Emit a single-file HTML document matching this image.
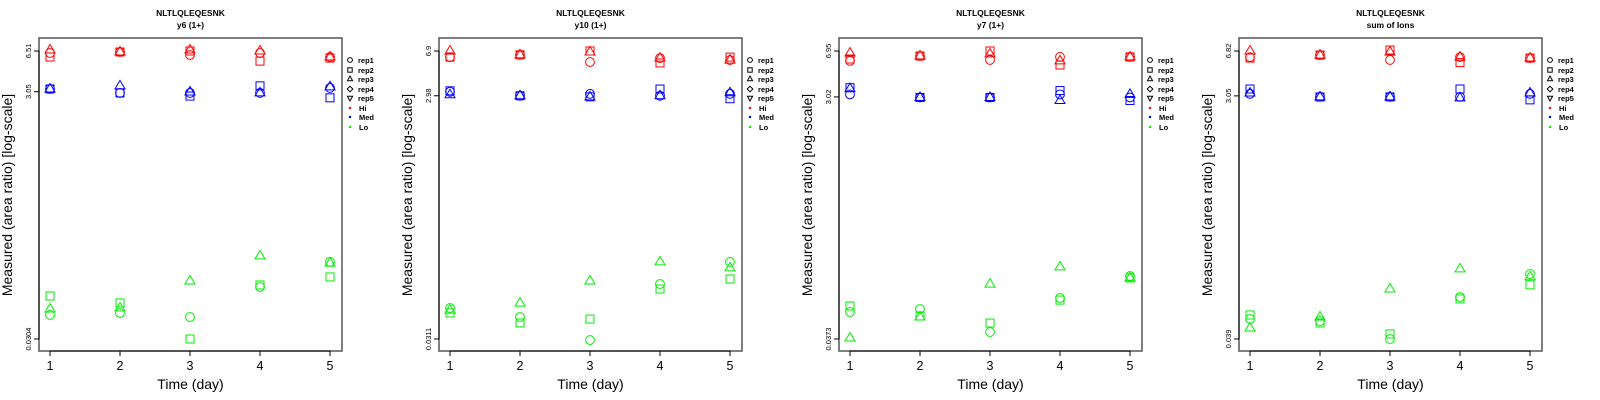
<!DOCTYPE html>
<html><head><meta charset="utf-8">
<style>
html,body{margin:0;padding:0;background:#fff;}
svg{display:block;font-family:"Liberation Sans",Arial,sans-serif;}
</style></head>
<body>
<svg id="chart" width="1600" height="400" viewBox="0 0 1600 400"></svg>
<script>
const days = [1, 2, 3, 4, 5];
const panelTitles = ["y6 (1+)", "y10 (1+)", "y7 (1+)", "sum of Ions"];
const peptide = "NLTLQLEQESNK";
const yTickLabels = [["6.51","3.05","0.0304"],["6.9","2.98","0.0311"],["6.95","3.02","0.0373"],["6.82","3.05","0.039"]];
const yTickValues = [[6.51,3.05,0.0304],[6.9,2.98,0.0311],[6.95,3.02,0.0373],[6.82,3.05,0.039]];
const repNames = ["rep1","rep2","rep3","rep4","rep5"];
const levels = ["Hi","Med","Lo"];
const levelColors = ["#ff0000","#0000ff","#00ee00"];
// values[panel][level][rep] = per-day values (rep1 circle, rep2 square, rep3 triangle)
const p1Hi  = [[6.27,6.39,6.04,6.27,5.82],[5.82,6.39,6.51,5.39,5.71],[6.63,6.39,6.63,6.51,5.82]];
const p1Med = [[3.21,2.98,2.98,2.98,3.27],[3.21,2.98,2.81,3.40,2.72],[3.21,3.40,3.03,2.98,3.34]];
const p1Lo  = [[0.0476,0.0493,0.0458,0.0801,0.128],[0.0678,0.0595,0.0304,0.0832,0.0966],[0.0532,0.0542,0.0896,0.143,0.125]];
const p2Hi  = [[6.15,6.42,5.61,6.04,5.82],[6.15,6.42,6.9,5.51,6.15],[6.9,6.42,6.77,6.04,5.82]];
const p2Med = [[3.21,2.98,3.09,2.98,3.09],[3.27,2.98,2.92,3.38,2.82],[3.04,2.98,2.92,2.98,3.15]];
const p2Lo  = [[0.0556,0.047,0.0305,0.0873,0.132],[0.0507,0.042,0.0452,0.0794,0.0958],[0.0535,0.061,0.0923,0.132,0.118]];
const p3Hi  = [[5.81,6.35,5.91,6.24,6.24],[6.01,6.35,6.95,5.39,6.24],[6.70,6.35,6.59,5.81,6.24]];
const p3Med = [[3.16,2.99,2.99,3.16,2.99],[3.57,2.99,2.99,3.39,2.83],[3.51,2.99,2.99,2.83,3.16]];
const p3Lo  = [[0.0609,0.0643,0.0423,0.0785,0.117],[0.0679,0.0567,0.0498,0.0756,0.113],[0.0380,0.0556,0.101,0.138,0.113]];
const p4Hi  = [[6.11,6.34,5.81,6.11,6.01],[6.01,6.34,6.94,5.54,6.01],[6.82,6.34,6.70,6.11,6.01]];
const p4Med = [[3.16,2.995,2.995,2.995,3.16],[3.45,2.995,2.995,3.45,2.84],[3.21,2.995,2.995,2.94,3.21]];
const p4Lo  = [[0.0558,0.0538,0.039,0.0828,0.125],[0.06,0.052,0.0427,0.08,0.103],[0.0475,0.0579,0.0956,0.137,0.119]];
const values = [[p1Hi,p1Med,p1Lo],[p2Hi,p2Med,p2Lo],[p3Hi,p3Med,p3Lo],[p4Hi,p4Med,p4Lo]];

const NS = "http://www.w3.org/2000/svg";
const svg = document.getElementById("chart");
function mk(tag, attrs, parent){ const e=document.createElementNS(NS,tag); for(const k in attrs) e.setAttribute(k,attrs[k]); (parent||svg).appendChild(e); return e; }

function drawSymbol(g, shape, cx, cy, color){
  let e;
  if(shape===0){ e=mk("circle",{cx:cx,cy:cy,r:4.4,fill:"none",stroke:color,"stroke-width":1},g); }
  else if(shape===1){ e=mk("rect",{x:cx-4,y:cy-4,width:8,height:8,fill:"none",stroke:color,"stroke-width":1},g); }
  else if(shape===2){ e=mk("polygon",{points:`${cx},${cy-5.5} ${cx+5},${cy+3} ${cx-5},${cy+3}`,fill:"none",stroke:color,"stroke-width":1},g); }
  else if(shape===3){ e=mk("polygon",{points:`${cx},${cy-5} ${cx+5},${cy} ${cx},${cy+5} ${cx-5},${cy}`,fill:"none",stroke:color,"stroke-width":1},g); }
  else { e=mk("polygon",{points:`${cx},${cy+5.5} ${cx+5},${cy-3} ${cx-5},${cy-3}`,fill:"none",stroke:color,"stroke-width":1},g); }
  return e;
}

for(let p=0;p<4;p++){
  const ox = p*400;
  const g = mk("g",{});
  
  
  const boxL=ox+39, boxR=ox+342, boxT=38, boxB=351;
  const topY=51, botY=339;
  const lTop=Math.log10(yTickValues[p][0]), lBot=Math.log10(yTickValues[p][2]);
  const yScale = v => topY + (lTop-Math.log10(v))/(lTop-lBot)*(botY-topY);
  const xScale = d => ox+50 + (d-1)*70;

  const t1=mk("text",{x:ox+190.5,y:16,"text-anchor":"middle","font-size":"8.5","font-weight":"bold"},g);
  t1.textContent=peptide;
  
  
  const t2=mk("text",{x:ox+190.5,y:28,"text-anchor":"middle","font-size":"8.5","font-weight":"bold"},g);
  t2.textContent=panelTitles[p];
  
  

  const box=mk("rect",{x:boxL,y:boxT,width:boxR-boxL,height:boxB-boxT,fill:"none",stroke:"#555","stroke-width":1.5},g);
  
  

  // x axis
  days.forEach(d=>{
    const x=xScale(d);
    mk("line",{x1:x,y1:boxB,x2:x,y2:boxB+5,stroke:"#000","stroke-width":1},g);
    const tl=mk("text",{x:x,y:370,"text-anchor":"middle","font-size":"12.5"},g);
    tl.textContent=d;
    
    
  });
  mk("line",{x1:xScale(1),y1:boxB,x2:xScale(5),y2:boxB,stroke:"#000","stroke-width":1},g);
  const xt=mk("text",{x:ox+190.5,y:389,"text-anchor":"middle","font-size":"14"},g);
  xt.textContent="Time (day)";
  
  

  // y axis
  mk("line",{x1:boxL,y1:topY,x2:boxL,y2:botY,stroke:"#000","stroke-width":1},g);
  yTickValues[p].forEach((v,i)=>{
    const y=yScale(v);
    mk("line",{x1:boxL-5,y1:y,x2:boxL,y2:y,stroke:"#000","stroke-width":1},g);
    const tl=mk("text",{x:0,y:0,"text-anchor":"middle","font-size":"7.5",transform:`translate(${ox+31},${y}) rotate(-90)`},g);
    tl.textContent=yTickLabels[p][i];
    
    
  });
  const yt=mk("text",{x:0,y:0,"text-anchor":"middle","font-size":"14",transform:`translate(${ox+12},195) rotate(-90)`},g);
  yt.textContent="Measured (area ratio) [log-scale]";
  
  

  // points
  for(let l=0;l<3;l++){
    const series=values[p][l];
    for(let r=0;r<series.length;r++){
      series[r].forEach((v,di)=>{
        const s=drawSymbol(g,r,xScale(days[di]),yScale(v),levelColors[l]);
        
        
      });
    }
  }

  // legend
  const lg=mk("g",{},g);
  
  
  const rowY=[60,70,79,89,98,108,117,127];
  repNames.forEach((n,i)=>{
    const cy=rowY[i];
    const e=mk("g",{},lg);
    
    
    const cx=ox+350, s=2.6;
    if(i===0) mk("circle",{cx:cx,cy:cy,r:2.4,fill:"none",stroke:"#000","stroke-width":1},e);
    else if(i===1) mk("rect",{x:cx-2.2,y:cy-2.2,width:4.4,height:4.4,fill:"none",stroke:"#000","stroke-width":1},e);
    else if(i===2) mk("polygon",{points:`${cx},${cy-3} ${cx+s},${cy+1.8} ${cx-s},${cy+1.8}`,fill:"none",stroke:"#000","stroke-width":1},e);
    else if(i===3) mk("polygon",{points:`${cx},${cy-2.8} ${cx+2.8},${cy} ${cx},${cy+2.8} ${cx-2.8},${cy}`,fill:"none",stroke:"#000","stroke-width":1},e);
    else mk("polygon",{points:`${cx},${cy+3} ${cx+s},${cy-1.8} ${cx-s},${cy-1.8}`,fill:"none",stroke:"#000","stroke-width":1},e);
    const tx=mk("text",{x:ox+358,y:cy+3,"font-size":"7.5","font-weight":"bold"},e);
    tx.textContent=n;
  });
  levels.forEach((n,i)=>{
    const cy=rowY[5+i];
    const e=mk("g",{},lg);
    
    
    mk("circle",{cx:ox+350,cy:cy,r:1.2,fill:levelColors[i]},e);
    const tx=mk("text",{x:ox+359,y:cy+3,"font-size":"7.5","font-weight":"bold"},e);
    tx.textContent=n;
  });
}
</script>
</body></html>
